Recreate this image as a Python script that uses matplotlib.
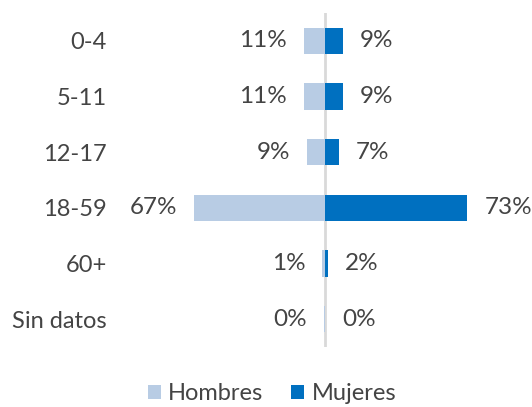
import matplotlib.pyplot as plt
import numpy as np

plt.rcParams['font.family'] = ['Lato', 'DejaVu Sans']

# data
categorias = ['0-4', '5-11', '12-17', '18-59', '60+', 'Sin datos']
hombres = [11, 11, 9, 67, 1.4, 0.4]
mujeres = [9, 9, 7, 73, 1.6, 0.2]

c_h = '#B8CCE4'
c_m = '#0070C0'
txt = '#444444'

W, H = 532, 407
fig = plt.figure(figsize=(W / 100, H / 100), dpi=100)

# axes placed in pixel terms
ax_l, ax_r = 140, 520
ax_t, ax_b = 13, 347
ax = fig.add_axes([ax_l / W, 1 - ax_b / H, (ax_r - ax_l) / W, (ax_b - ax_t) / H])

scale = 1.95  # px per percent
xmin = -(325 - ax_l) / scale
xmax = (ax_r - 325) / scale
ax.set_xlim(xmin, xmax)
ax.set_ylim(len(categorias) - 0.5, -0.5)

y = np.arange(len(categorias))
ax.barh(y, -np.array(hombres), height=0.47, color=c_h, label='Hombres', zorder=2)
ax.barh(y, mujeres, height=0.47, color=c_m, label='Mujeres', zorder=2)
ax.axvline(0, color='#d9d9d9', lw=2, zorder=1)

gap = 17 / scale
for i in range(len(categorias)):
    ax.text(-hombres[i] - gap, y[i], f'{round(hombres[i])}%', ha='right', va='center',
            fontsize=17.5, color=txt)
    ax.text(mujeres[i] + gap, y[i], f'{round(mujeres[i])}%', ha='left', va='center',
            fontsize=17.5, color=txt)

ax.set_yticks(y)
ax.set_yticklabels(categorias, fontsize=17, color=txt)
ax.tick_params(axis='y', length=0, pad=24)
ax.set_xticks([])
for s in ax.spines.values():
    s.set_visible(False)

fig.legend(loc='center', bbox_to_anchor=(272 / W, 1 - 394 / H), ncol=2, frameon=False,
           fontsize=17, labelcolor=txt, handlelength=0.55, handleheight=0.55,
           handletextpad=0.3, columnspacing=1.2, borderpad=0)

fig.savefig('out.png', dpi=100)
